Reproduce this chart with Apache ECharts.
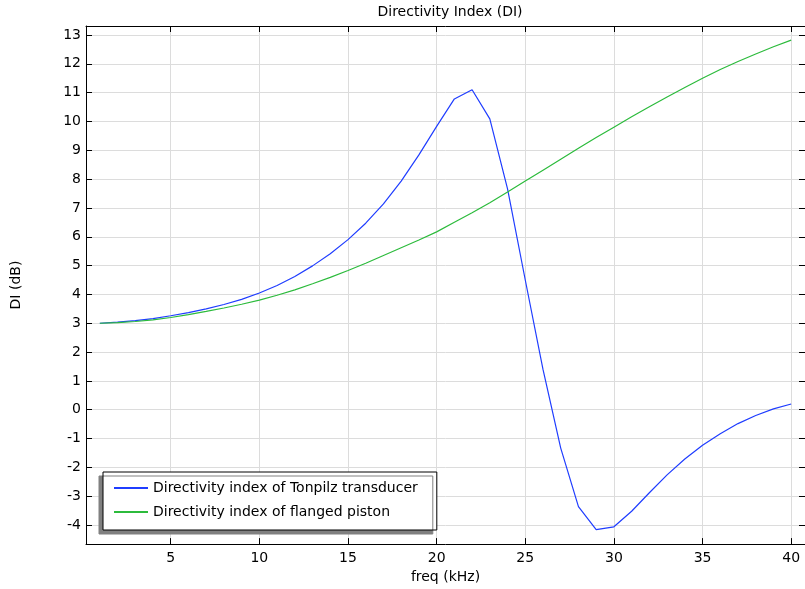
<!DOCTYPE html>
<html>
<head>
<meta charset="utf-8">
<script src="https://cdn.jsdelivr.net/npm/echarts@6/dist/echarts.min.js"></script>
<style>html,body{margin:0;padding:0;background:#fff}#c{width:805px;height:589px}</style>
</head>
<body>
<div id="c"></div>
<script>
const freq = [1,2,3,4,5,6,7,8,9,10,11,12,13,14,15,16,17,18,19,20,21,22,23,24,25,26,27,28,29,30,31,32,33,34,35,36,37,38,39,40];
const tonpilz = [3.00,3.04,3.09,3.16,3.26,3.37,3.50,3.65,3.83,4.05,4.31,4.62,4.99,5.41,5.90,6.47,7.14,7.93,8.84,9.83,10.78,11.10,10.09,7.66,4.50,1.40,-1.33,-3.36,-4.16,-4.06,-3.52,-2.88,-2.26,-1.71,-1.23,-0.83,-0.48,-0.20,0.03,0.20];
const piston = [3.00,3.02,3.06,3.12,3.20,3.30,3.41,3.53,3.66,3.80,3.97,4.16,4.37,4.59,4.83,5.08,5.35,5.62,5.89,6.17,6.50,6.83,7.18,7.55,7.93,8.31,8.69,9.07,9.44,9.80,10.16,10.51,10.85,11.18,11.50,11.80,12.08,12.34,12.59,12.82];
const seriesNames = ['Directivity index of Tonpilz transducer','Directivity index of flanged piston'];
const titleText = 'Directivity Index (DI)';
const xName = 'freq (kHz)';
const yName = 'DI (dB)';

const FONT = 'DejaVu Sans';
const chart = echarts.init(document.getElementById('c'), null, {renderer:'canvas'});
const toPairs = (ys) => freq.map((f,i)=>[f, ys[i]]);
const axisLine = {show:true, onZero:false, lineStyle:{color:'#000', width:1}};
const tick = {show:true, inside:true, length:6, lineStyle:{color:'#000', width:1}};
const split = {show:true, lineStyle:{color:'#dcdcdc', width:1}};
const lbl = {color:'#000', fontFamily:FONT, fontSize:14};
chart.setOption({
  animation:false,
  backgroundColor:'#fff',
  title:{text:titleText, left:445, textAlign:'center', top:0, textStyle:{fontFamily:FONT, fontSize:14, fontWeight:'normal', color:'#000'}},
  grid:{left:86, right:0, top:26, bottom:42},
  legend:{
    orient:'vertical', left:103, top:472,
    padding:[8,19,10,11], itemGap:8,
    itemWidth:34, itemHeight:2, icon:'rect',
    backgroundColor:'#fff', borderColor:'#000', borderWidth:1,
    shadowColor:'#808080', shadowBlur:0, shadowOffsetX:-4, shadowOffsetY:4,
    textStyle:{fontFamily:FONT, fontSize:14, color:'#000', lineHeight:16},
    data:seriesNames
  },
  xAxis:[
    {type:'value', min:0.22, max:40.78, minInterval:5, maxInterval:5, splitNumber:8,
     name:xName, nameLocation:'middle', nameGap:24, nameTextStyle:{fontFamily:FONT, fontSize:14, color:'#000'},
     axisLine, axisTick:tick, splitLine:split,
     axisLabel:Object.assign({margin:7, showMinLabel:false, showMaxLabel:false}, lbl)},
    {type:'value', position:'top', min:0.22, max:40.78, minInterval:5, maxInterval:5, splitNumber:8,
     axisLine, axisTick:tick, splitLine:{show:false}, axisLabel:{show:false}}
  ],
  yAxis:[
    {type:'value', min:-4.66, max:13.31, minInterval:1, maxInterval:1, splitNumber:18,
     name:yName, nameLocation:'middle', nameGap:63, nameRotate:90, nameTextStyle:{fontFamily:FONT, fontSize:14, color:'#000'},
     axisLine, axisTick:tick, splitLine:split,
     axisLabel:Object.assign({margin:5, showMinLabel:false, showMaxLabel:false}, lbl)},
    {type:'value', position:'right', min:-4.66, max:13.31, minInterval:1, maxInterval:1, splitNumber:18,
     axisLine, axisTick:tick, splitLine:{show:false}, axisLabel:{show:false}}
  ],
  series:[
    {name:seriesNames[0], type:'line', data:toPairs(tonpilz), symbol:'none', color:'#1f3dff', lineStyle:{width:1.2, color:'#1f3dff'}},
    {name:seriesNames[1], type:'line', data:toPairs(piston), symbol:'none', color:'#2cbb3c', lineStyle:{width:1.2, color:'#2cbb3c'}}
  ]
});
</script>
</body>
</html>
